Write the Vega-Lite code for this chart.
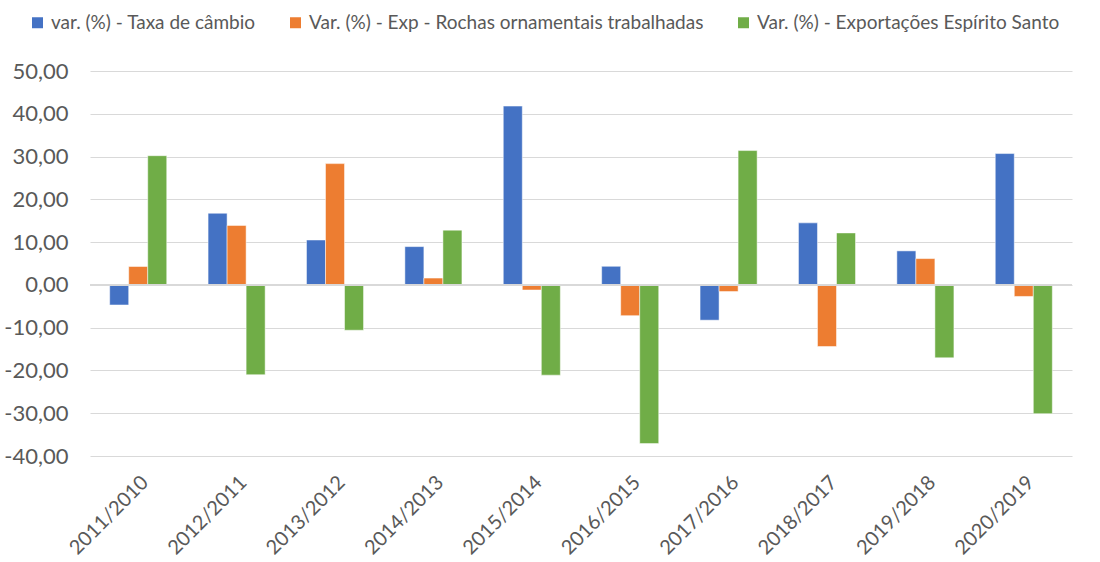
{
  "$schema": "https://vega.github.io/schema/vega-lite/v6.json",
  "width": 982,
  "height": 385,
  "autosize": {"type": "none"},
  "padding": {"left": 90, "top": 71, "right": 28, "bottom": 106},
  "config": {
    "locale": {"number": {"decimal": ",", "thousands": ".", "grouping": [3], "currency": ["R$", ""], "minus": "-"}},
    "view": {"stroke": null},
    "font": "Lato"
  },
  "data": {
    "values": [
      {"periodo": "2011/2010", "serie": "var. (%) - Taxa de câmbio", "valor": -4.7},
      {"periodo": "2011/2010", "serie": "Var. (%) - Exp - Rochas ornamentais trabalhadas", "valor": 4.3},
      {"periodo": "2011/2010", "serie": "Var. (%) - Exportações Espírito Santo", "valor": 30.2},
      {"periodo": "2012/2011", "serie": "var. (%) - Taxa de câmbio", "valor": 16.75},
      {"periodo": "2012/2011", "serie": "Var. (%) - Exp - Rochas ornamentais trabalhadas", "valor": 13.9},
      {"periodo": "2012/2011", "serie": "Var. (%) - Exportações Espírito Santo", "valor": -21.0},
      {"periodo": "2013/2012", "serie": "var. (%) - Taxa de câmbio", "valor": 10.5},
      {"periodo": "2013/2012", "serie": "Var. (%) - Exp - Rochas ornamentais trabalhadas", "valor": 28.35},
      {"periodo": "2013/2012", "serie": "Var. (%) - Exportações Espírito Santo", "valor": -10.6},
      {"periodo": "2014/2013", "serie": "var. (%) - Taxa de câmbio", "valor": 8.95},
      {"periodo": "2014/2013", "serie": "Var. (%) - Exp - Rochas ornamentais trabalhadas", "valor": 1.6},
      {"periodo": "2014/2013", "serie": "Var. (%) - Exportações Espírito Santo", "valor": 12.8},
      {"periodo": "2015/2014", "serie": "var. (%) - Taxa de câmbio", "valor": 41.8},
      {"periodo": "2015/2014", "serie": "Var. (%) - Exp - Rochas ornamentais trabalhadas", "valor": -1.2},
      {"periodo": "2015/2014", "serie": "Var. (%) - Exportações Espírito Santo", "valor": -21.1},
      {"periodo": "2016/2015", "serie": "var. (%) - Taxa de câmbio", "valor": 4.35},
      {"periodo": "2016/2015", "serie": "Var. (%) - Exp - Rochas ornamentais trabalhadas", "valor": -7.2},
      {"periodo": "2016/2015", "serie": "Var. (%) - Exportações Espírito Santo", "valor": -37.1},
      {"periodo": "2017/2016", "serie": "var. (%) - Taxa de câmbio", "valor": -8.25},
      {"periodo": "2017/2016", "serie": "Var. (%) - Exp - Rochas ornamentais trabalhadas", "valor": -1.55},
      {"periodo": "2017/2016", "serie": "Var. (%) - Exportações Espírito Santo", "valor": 31.4},
      {"periodo": "2018/2017", "serie": "var. (%) - Taxa de câmbio", "valor": 14.5},
      {"periodo": "2018/2017", "serie": "Var. (%) - Exp - Rochas ornamentais trabalhadas", "valor": -14.4},
      {"periodo": "2018/2017", "serie": "Var. (%) - Exportações Espírito Santo", "valor": 12.15},
      {"periodo": "2019/2018", "serie": "var. (%) - Taxa de câmbio", "valor": 7.95},
      {"periodo": "2019/2018", "serie": "Var. (%) - Exp - Rochas ornamentais trabalhadas", "valor": 6.15},
      {"periodo": "2019/2018", "serie": "Var. (%) - Exportações Espírito Santo", "valor": -17.05},
      {"periodo": "2020/2019", "serie": "var. (%) - Taxa de câmbio", "valor": 30.7},
      {"periodo": "2020/2019", "serie": "Var. (%) - Exp - Rochas ornamentais trabalhadas", "valor": -2.7},
      {"periodo": "2020/2019", "serie": "Var. (%) - Exportações Espírito Santo", "valor": -30.1}
    ]
  },
  "layer": [
    {
      "mark": {"type": "bar", "stroke": "white", "strokeWidth": 0.5},
      "encoding": {
        "x": {
          "field": "periodo", "type": "nominal", "sort": null,
          "scale": {"paddingInner": 0.42, "paddingOuter": 0.2},
          "axis": {"title": null, "labelAngle": -45, "labelFontSize": 20, "labelColor": "#595959", "domain": false, "ticks": false, "grid": false, "labelPadding": 16}
        },
        "xOffset": {
          "field": "serie", "type": "nominal",
          "sort": ["var. (%) - Taxa de câmbio", "Var. (%) - Exp - Rochas ornamentais trabalhadas", "Var. (%) - Exportações Espírito Santo"],
          "scale": {"paddingInner": 0, "paddingOuter": 0}
        },
        "y": {
          "field": "valor", "type": "quantitative",
          "scale": {"domain": [-40, 50], "nice": false, "zero": false},
          "axis": {"title": null, "values": [-40, -30, -20, -10, 0, 10, 20, 30, 40, 50], "format": ".2f", "labelFontSize": 22, "labelColor": "#595959", "domain": false, "ticks": false, "gridColor": "#d9d9d9", "gridWidth": 1.2, "labelPadding": 22}
        },
        "color": {
          "field": "serie", "type": "nominal",
          "scale": {
            "domain": ["var. (%) - Taxa de câmbio", "Var. (%) - Exp - Rochas ornamentais trabalhadas", "Var. (%) - Exportações Espírito Santo"],
            "range": ["#4472C4", "#ED7D31", "#70AD47"]
          },
          "legend": {
            "title": null, "orient": "none", "legendX": -62, "legendY": -58, "direction": "horizontal",
            "symbolType": "square", "symbolSize": 121, "symbolStrokeWidth": 0, "symbolOpacity": 1,
            "labelFontSize": 19, "labelLimit": 0, "labelColor": "#595959", "columnPadding": 30, "labelOffset": 4
          }
        }
      }
    },
    {
      "mark": {"type": "rule", "color": "#d9d9d9", "strokeWidth": 1.5},
      "encoding": {"y": {"datum": 0}}
    }
  ]
}
